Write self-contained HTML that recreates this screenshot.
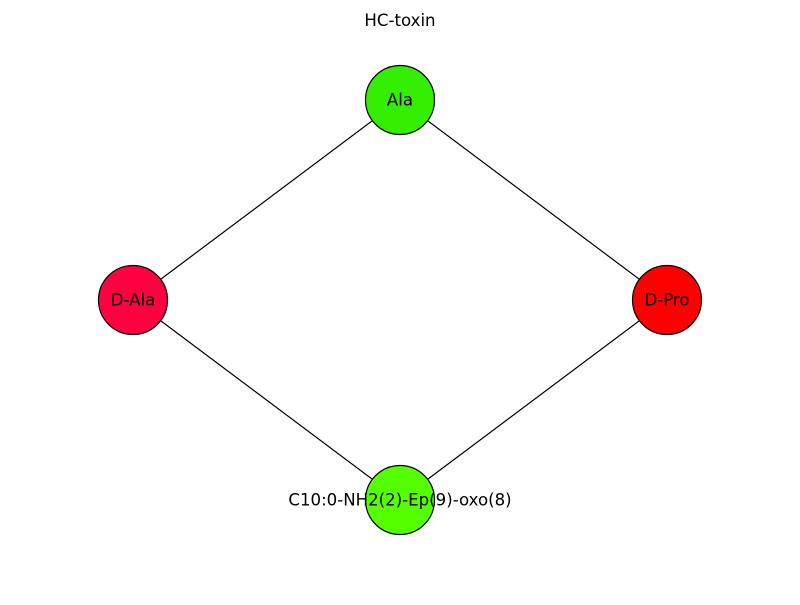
<!DOCTYPE html>
<html><head><meta charset="utf-8"><style>html,body{margin:0;padding:0;background:#fff}</style></head>
<body>
<svg width="800" height="600" xmlns="http://www.w3.org/2000/svg" font-family="'DejaVu Sans', 'Liberation Sans', sans-serif" font-size="16.6">
<rect width="800" height="600" fill="#fff"/>
<text x="400" y="26" text-anchor="middle">HC-toxin</text>
<g stroke="#000" stroke-width="1.2">
<line x1="400" y1="100" x2="133" y2="300"/>
<line x1="400" y1="100" x2="667" y2="300"/>
<line x1="133" y1="300" x2="400" y2="500"/>
<line x1="667" y1="300" x2="400" y2="500"/>
</g>
<g stroke="#000" stroke-width="1.2">
<circle cx="400" cy="100" r="34.5" fill="#33ee00"/>
<circle cx="133" cy="300" r="34.5" fill="#ff0040"/>
<circle cx="667" cy="300" r="34.5" fill="#ff0000"/>
<circle cx="400" cy="500" r="34.5" fill="#55ff00"/>
</g>
<g text-anchor="middle">
<text x="400" y="105.5">Ala</text>
<text x="133" y="305.5">D-Ala</text>
<text x="667" y="305.5">D-Pro</text>
<text x="400" y="505.5">C10:0-NH2(2)-Ep(9)-oxo(8)</text>
</g>
</svg>
</body></html>
